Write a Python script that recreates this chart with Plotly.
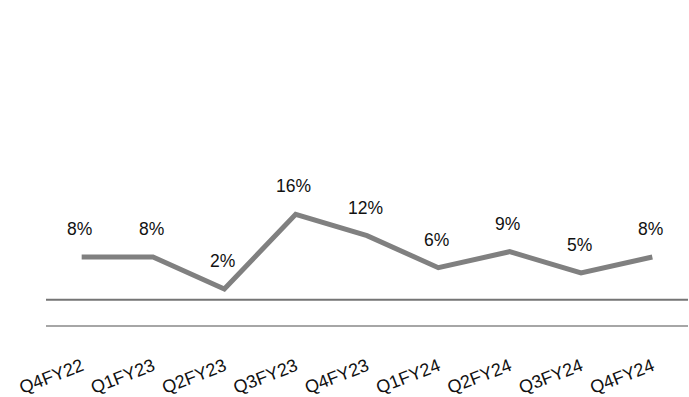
import plotly.graph_objects as go

quarters = ["Q4FY22", "Q1FY23", "Q2FY23", "Q3FY23", "Q4FY23", "Q1FY24", "Q2FY24", "Q3FY24", "Q4FY24"]
growth = [8, 8, 2, 16, 12, 6, 9, 5, 8]
labels = [f"{v}%" for v in growth]

fig = go.Figure()
fig.add_trace(go.Scatter(
    x=quarters, y=growth, mode="lines",
    line=dict(color="#808080", width=5),
    hoverinfo="skip", showlegend=False,
))
for q, v, t in zip(quarters, growth, labels):
    fig.add_annotation(x=q, y=v, text=t, showarrow=False, yshift=28, xshift=-2,
                       font=dict(family="Liberation Sans, Arial", size=17.5, color="#111111"))

fig.add_shape(type="line", xref="paper", x0=0, x1=1, yref="y", y0=0, y1=0,
              line=dict(color="#757575", width=2))

fig.update_layout(
    width=689, height=397,
    margin=dict(l=46, r=1, t=0, b=72, autoexpand=False),
    paper_bgcolor="white", plot_bgcolor="white",
    font=dict(family="Liberation Sans, Arial", size=17.5, color="#111111"),
    xaxis=dict(type="category", range=[-0.5, 8.5], showgrid=False, zeroline=False,
               showline=True, linecolor="#a6a6a6", linewidth=2, automargin=False,
               tickangle=-21, ticks="", ticklabelstandoff=22,
               tickfont=dict(family="Liberation Sans, Arial", size=18)),
    yaxis=dict(range=[-4.75, 56.2], visible=False, showgrid=False, zeroline=False),
)
fig.write_html("out.html")
